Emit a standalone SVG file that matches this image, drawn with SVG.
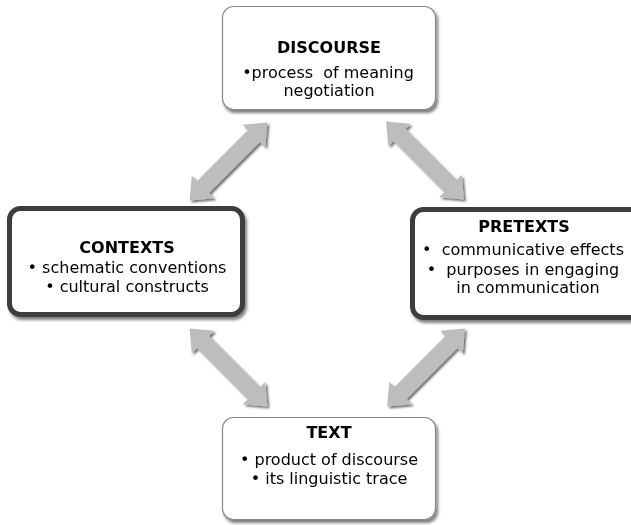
<svg xmlns="http://www.w3.org/2000/svg" width="631" height="525" viewBox="0 0 631 525">
<defs>
<filter id="sh" x="-20%" y="-20%" width="140%" height="150%">
<feDropShadow dx="2" dy="3" stdDeviation="1.8" flood-color="#000" flood-opacity="0.5"/>
</filter>
<filter id="ash" x="-30%" y="-30%" width="160%" height="160%">
<feDropShadow dx="2" dy="2" stdDeviation="1.2" flood-color="#000" flood-opacity="0.55"/>
</filter>
<polygon id="dbl" points="-55,0 -36,-16 -36,-8.5 36,-8.5 36,-16 55,0 36,16 36,8.5 -36,8.5 -36,16"/>
</defs>
<style>
.thin{fill:#fff;stroke:#8a8a8a;stroke-width:1.2}
.thick{fill:#fff;stroke:#3c3c3c;stroke-width:5}
.arr{fill:#bdbdbd}
text{font-family:"DejaVu Sans","Verdana",sans-serif;font-size:16px;fill:#000;text-anchor:middle;white-space:pre}
.t{font-weight:bold;font-size:16px}
</style>
<rect width="631" height="525" fill="#fff"/>
<g id="connectors" class="arr" filter="url(#ash)">
<use href="#dbl" transform="translate(228.5,161.5) rotate(-45)"/>
<use href="#dbl" transform="translate(425,160.5) rotate(45)"/>
<use href="#dbl" transform="translate(228.5,367.5) rotate(45)"/>
<use href="#dbl" transform="translate(426,367.5) rotate(-45)"/>
</g>
<g id="discourse">
<rect class="thin" x="222.5" y="6.5" width="213" height="103" rx="11" filter="url(#sh)"/>
<text class="t" x="329" y="53">DISCOURSE</text>
<text x="328" y="78" xml:space="preserve">•process  of meaning</text>
<text x="329" y="96">negotiation</text>
</g>
<g id="contexts">
<rect class="thick" x="9.5" y="208.5" width="233" height="106" rx="11" filter="url(#sh)"/>
<text class="t" x="127" y="253">CONTEXTS</text>
<text x="127" y="273">• schematic conventions</text>
<text x="127" y="292">• cultural constructs</text>
</g>
<g id="pretexts">
<rect class="thick" x="412.5" y="209.5" width="232" height="108" rx="11" filter="url(#sh)"/>
<text class="t" x="524" y="232">PRETEXTS</text>
<text x="523" y="255" xml:space="preserve">•  communicative effects</text>
<text x="523" y="275" xml:space="preserve">•  purposes in engaging</text>
<text x="528" y="293">in communication</text>
</g>
<g id="text">
<rect class="thin" x="222.5" y="417.5" width="213" height="102" rx="11" filter="url(#sh)"/>
<text class="t" x="329" y="438">TEXT</text>
<text x="329" y="465">• product of discourse</text>
<text x="329" y="484">• its linguistic trace</text>
</g>
</svg>
